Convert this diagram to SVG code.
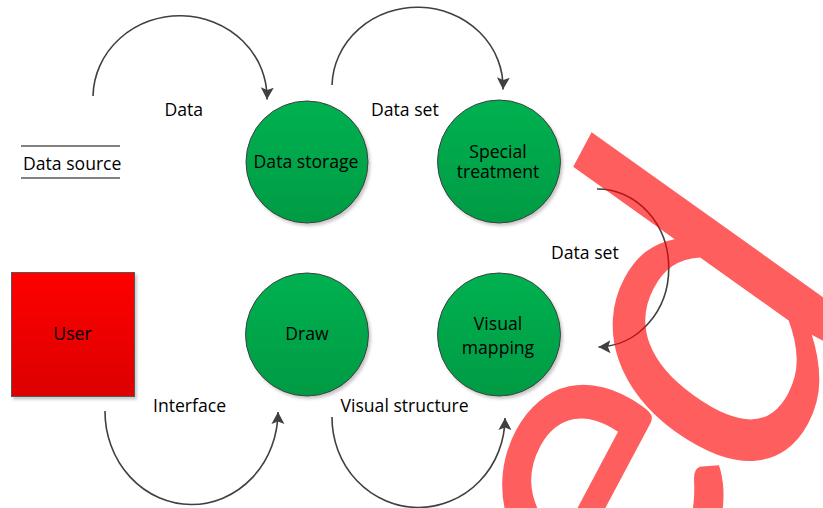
<svg xmlns="http://www.w3.org/2000/svg" width="823" height="508" viewBox="0 0 823 508">
  <defs>
    <linearGradient id="gGreen" x1="0" y1="0" x2="0" y2="1">
      <stop offset="0" stop-color="#00b150"/>
      <stop offset="1" stop-color="#009b44"/>
    </linearGradient>
    <linearGradient id="gRed" x1="0" y1="0" x2="0" y2="1">
      <stop offset="0" stop-color="#ff0000"/>
      <stop offset="1" stop-color="#dc0000"/>
    </linearGradient>
    <filter id="shadow" x="-20%" y="-20%" width="140%" height="140%">
      <feDropShadow dx="2" dy="2.5" stdDeviation="1.5" flood-color="#000" flood-opacity="0.22"/>
    </filter>
    <marker id="arrow" markerUnits="userSpaceOnUse" markerWidth="14" markerHeight="14" refX="12" refY="6.5" orient="auto">
      <path d="M0,0 L12,6.5 L0,13 L2.5,6.5 Z" fill="#404040"/>
    </marker>
  </defs>
  <style>
    .lbl { font-family: "Open Sans", "Noto Sans", "Liberation Sans", sans-serif; font-size: 17.6px; fill: #000; }
    .mid { text-anchor: middle; }
    .proc { fill: url(#gGreen); stroke: #3f3f3f; stroke-width: 1; filter: url(#shadow); }
    .conn { fill: none; stroke: #404040; stroke-width: 1.6; marker-end: url(#arrow); }
    .store { stroke: #595959; stroke-width: 1.6; }
    .wm { font-family: Lato, "Liberation Sans", sans-serif; font-size: 441px; fill: #ff0000; fill-opacity: 0.63; }
  </style>

  <rect width="823" height="508" fill="#ffffff"/>

  <!-- data store -->
  <g id="data-source">
    <line class="store" x1="21" y1="146" x2="120" y2="146"/>
    <line class="store" x1="21" y1="178" x2="120" y2="178"/>
    <text class="lbl" x="23" y="170">Data source</text>
  </g>

  <!-- external entity -->
  <g id="user">
    <rect x="11.5" y="272.5" width="123" height="124" fill="url(#gRed)" stroke="#595959" stroke-width="1" filter="url(#shadow)"/>
    <text class="lbl mid" x="72.5" y="340">User</text>
  </g>

  <!-- processes -->
  <g id="data-storage">
    <circle class="proc" cx="307" cy="162" r="61"/>
    <text class="lbl mid" x="306" y="167.5">Data storage</text>
  </g>
  <g id="special-treatment">
    <circle class="proc" cx="499" cy="161.5" r="61.5"/>
    <text class="lbl mid" x="498" y="157.5">Special</text>
    <text class="lbl mid" x="498" y="177.5">treatment</text>
  </g>
  <g id="draw">
    <circle class="proc" cx="307" cy="334.5" r="61.5"/>
    <text class="lbl mid" x="307" y="340">Draw</text>
  </g>
  <g id="visual-mapping">
    <circle class="proc" cx="499" cy="334.5" r="61.5"/>
    <text class="lbl mid" x="498" y="330">Visual</text>
    <text class="lbl mid" x="498" y="354">mapping</text>
  </g>

  <!-- data flows -->
  <g id="connectors">
    <path class="conn" d="M93,96 A87,82 0 0 1 267,99.5"/>
    <path class="conn" d="M332,85 A85.5,80 0 0 1 503,89.5"/>
    <path class="conn" d="M597,189 A71,79 0 0 1 598.5,347"/>
    <path class="conn" d="M105,411 A86.5,93 0 0 0 278,412"/>
    <path class="conn" d="M332,417 A86.5,90 0 0 0 505,418"/>
    <text class="lbl" x="164.5" y="116">Data</text>
    <text class="lbl" x="371" y="116">Data set</text>
    <text class="lbl" x="551" y="259">Data set</text>
    <text class="lbl" x="153" y="412">Interface</text>
    <text class="lbl" x="340.5" y="412">Visual structure</text>
  </g>

  <!-- translucent overlay lettering -->
  <g id="overlay">
    <text class="wm" transform="translate(645 671) rotate(-62) skewX(-7.5)">e</text>
    <text class="wm" transform="translate(757 513) rotate(-62) skewX(-7.5)">d</text>
  </g>
</svg>
